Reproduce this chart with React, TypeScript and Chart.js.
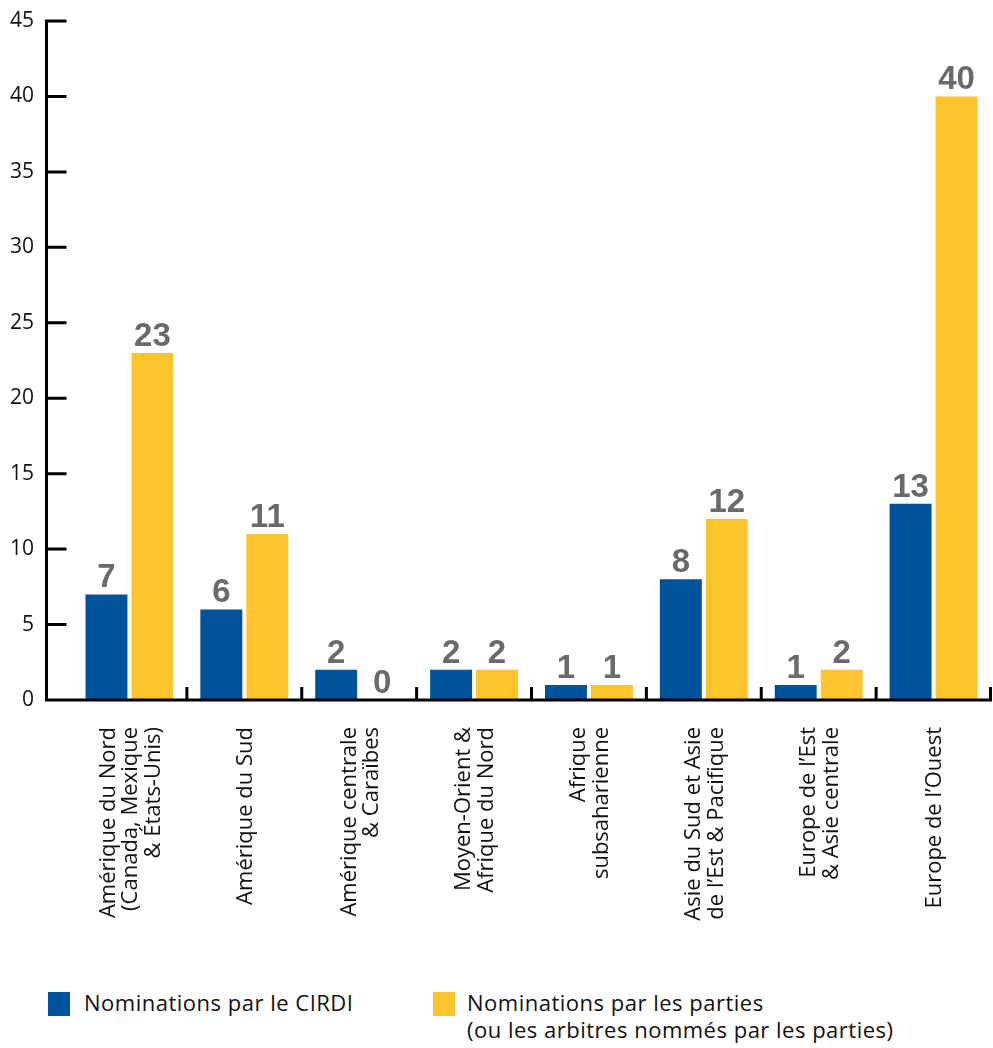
import React, { useEffect, useRef } from "react";
import { Chart, registerables } from "chart.js";

Chart.register(...registerables);

const categories: string[][] = [
  ["Amérique du Nord", "(Canada, Mexique", "& États-Unis)"],
  ["Amérique du Sud"],
  ["Amérique centrale", "& Caraïbes"],
  ["Moyen-Orient &", "Afrique du Nord"],
  ["Afrique", "subsaharienne"],
  ["Asie du Sud et Asie", "de l’Est & Pacifique"],
  ["Europe de l’Est", "& Asie centrale"],
  ["Europe de l’Ouest"],
];
const cirdiValues = [7, 6, 2, 2, 1, 8, 1, 13];
const partiesValues = [23, 11, 0, 2, 1, 12, 2, 40];
const seriesNames = ["Nominations par le CIRDI", "Nominations par les parties"];
const partiesNote = "(ou les arbitres nommés par les parties)";

const BLUE = "#00539b";
const YELLOW = "#fec42d";
const TEXT_FONT = "'Open Sans', Lato, sans-serif";
const X_FONT_SIZE = 22;
const X_LINE_HEIGHT = 1.03;

// centre multi-line rotated labels on their category
const centerLabelsPlugin = {
  id: "centerLabels",
  beforeDraw(chart: any) {
    const x = chart.scales.x;
    const items = x.getLabelItems(chart.chartArea);
    const lh = X_FONT_SIZE * X_LINE_HEIGHT;
    items.forEach((item: any) => {
      if (item.__centered) return;
      const n = Array.isArray(item.label) ? item.label.length : 1;
      item.options.translation[0] -= ((n - 1) * lh) / 2 - 1.5;
      item.__centered = true;
    });
  },
};

const axesPlugin = {
  id: "customAxes",
  afterDatasetsDraw(chart: any) {
    const { ctx, chartArea, scales } = chart;
    const x = scales.x;
    const y = scales.y;
    const axisX = chartArea.left - 25.5;
    const y0 = y.getPixelForValue(0);
    ctx.save();
    ctx.strokeStyle = "#000";
    ctx.lineWidth = 3;
    ctx.lineCap = "butt";
    ctx.beginPath();
    ctx.moveTo(axisX, y.getPixelForValue(y.max) - 1.5);
    ctx.lineTo(axisX, y0 + 1.5);
    y.ticks.forEach((t: any) => {
      const py = y.getPixelForValue(t.value);
      if (t.value === 0) return;
      ctx.moveTo(axisX, py);
      ctx.lineTo(axisX + 20, py);
    });
    ctx.moveTo(axisX - 1.5, y0);
    ctx.lineTo(chartArea.right + 1, y0);
    const half = (x.getPixelForValue(1) - x.getPixelForValue(0)) / 2;
    for (let i = 0; i < categories.length; i++) {
      const bx = Math.min(x.getPixelForValue(i) + half, chartArea.right - 0.5);
      ctx.moveTo(bx, y0);
      ctx.lineTo(bx, y0 - 13);
    }
    ctx.stroke();

    // value labels
    ctx.fillStyle = "#6a6a6a";
    ctx.font = "bold 33px 'Liberation Sans', Arial, sans-serif";
    ctx.textAlign = "center";
    ctx.textBaseline = "alphabetic";
    chart.data.datasets.forEach((ds: any, di: number) => {
      const meta = chart.getDatasetMeta(di);
      meta.data.forEach((bar: any, i: number) => {
        ctx.fillText(String(ds.data[i]), bar.x, bar.y - 7);
      });
    });
    ctx.restore();
  },
};

export default function App() {
  const canvasRef = useRef<HTMLCanvasElement>(null);

  useEffect(() => {
    if (!canvasRef.current) return;
    const chart = new Chart(canvasRef.current, {
      type: "bar",
      data: {
        labels: categories,
        datasets: [
          {
            label: seriesNames[0],
            data: cirdiValues,
            backgroundColor: BLUE,
            categoryPercentage: 0.8,
            barPercentage: 0.913,
          },
          {
            label: seriesNames[1],
            data: partiesValues,
            backgroundColor: YELLOW,
            categoryPercentage: 0.8,
            barPercentage: 0.913,
          },
        ],
      },
      options: {
        responsive: false,
        animation: false,
        layout: { padding: { top: 21, right: 2, left: 0, bottom: 0 } },
        plugins: {
          legend: { display: false },
          tooltip: { enabled: false },
        },
        scales: {
          x: {
            grid: { display: false, drawTicks: false },
            border: { display: false },
            ticks: {
              autoSkip: false,
              maxRotation: 90,
              minRotation: 90,
              padding: 27,
              color: "#111",
              font: { family: TEXT_FONT, size: X_FONT_SIZE, lineHeight: X_LINE_HEIGHT },
            },
            afterFit(scale: any) {
              scale.height = 260;
              scale.paddingTop = 0;
              scale.paddingBottom = 0;
              scale.paddingLeft = 0;
              scale.paddingRight = 0;
            },
          },
          y: {
            min: 0,
            max: 45,
            grid: { display: false, drawTicks: false },
            border: { display: false },
            ticks: {
              stepSize: 5,
              padding: 38,
              color: "#111",
              font: { family: TEXT_FONT, size: 21 },
            },
            afterFit(scale: any) {
              scale.width = 72;
              scale.paddingTop = 0;
              scale.paddingBottom = 0;
            },
          },
        },
      },
      plugins: [centerLabelsPlugin, axesPlugin],
    });
    return () => chart.destroy();
  }, []);

  const legendText: React.CSSProperties = {
    position: "absolute",
    fontFamily: TEXT_FONT,
    fontSize: 22,
    letterSpacing: "0.5px",
    lineHeight: "27px",
    color: "#111",
    whiteSpace: "nowrap",
  };

  return (
    <div style={{ position: "absolute", left: 0, top: 0, width: 993, height: 1048, background: "#fff" }}>
      <canvas ref={canvasRef} width={993} height={960} style={{ display: "block" }} />
      <div style={{ position: "absolute", left: 48, top: 992, width: 22, height: 24, background: BLUE }} />
      <div style={{ ...legendText, left: 84, top: 989 }}>{seriesNames[0]}</div>
      <div style={{ position: "absolute", left: 433, top: 992, width: 22, height: 24, background: YELLOW }} />
      <div style={{ ...legendText, left: 467, top: 989 }}>
        {seriesNames[1]}
        <br />
        {partiesNote}
      </div>
    </div>
  );
}
